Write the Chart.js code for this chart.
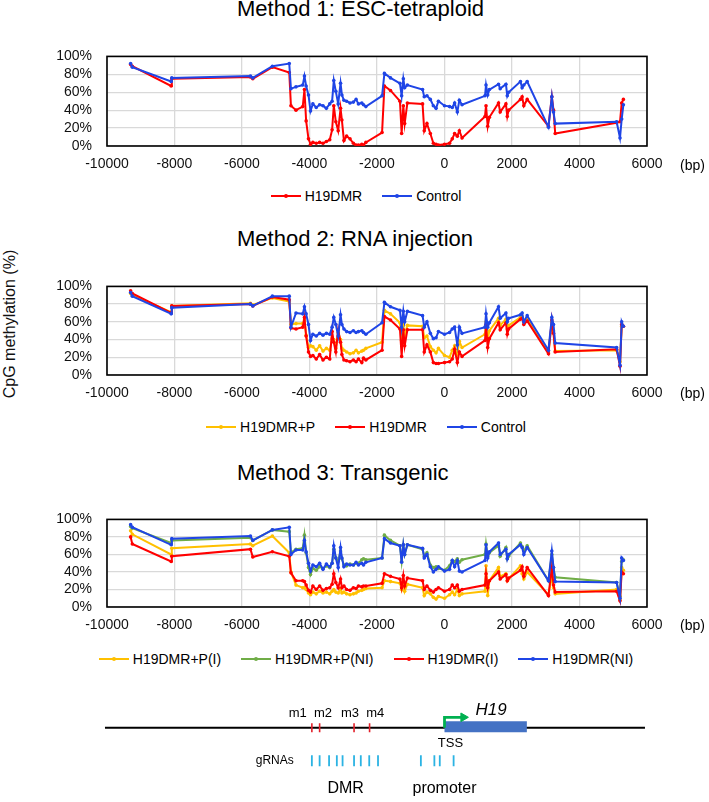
<!DOCTYPE html>
<html>
<head>
<meta charset="utf-8">
<script src="https://cdn.jsdelivr.net/npm/chart.js@4.4.0/dist/chart.umd.min.js"></script>
<style>
body { margin: 0; width: 709px; height: 802px; overflow: hidden; background: #fff; position: relative;
       font-family: "Liberation Sans", Arial, sans-serif; color: #000; }
.abs { position: absolute; }
.title { left: 237px; font-size: 22px; line-height: 22px; white-space: nowrap; }
.legend { left: 0; width: 732px; display: flex; justify-content: center; font-size: 14px; line-height: 14px; white-space: nowrap; }
.item { display: flex; align-items: center; margin: 0 10px; }
.swatch { position: relative; width: 30px; height: 2px; margin-right: 4px; }
.swatch i { position: absolute; left: 13px; top: -1px; width: 4px; height: 4px; border-radius: 2px; }
.bp { left: 680px; font-size: 14px; line-height: 14px; }
.ylab { left: -90px; top: 314px; width: 200px; height: 20px; line-height: 20px; font-size: 16px;
        text-align: center; white-space: nowrap; transform: rotate(-90deg); color: #111; }
</style>
</head>
<body>
<div class="abs title" style="top:-2px">Method 1: ESC-tetraploid</div>
<canvas id="c1" class="abs" style="top:33px;left:0" width="709" height="141"></canvas>
<div class="abs bp" style="top:158px">(bp)</div>
<div id="lg1" class="abs legend" style="top:189px"></div>

<div class="abs ylab">CpG methylation (%)</div>

<div class="abs title" style="top:228px">Method 2: RNA injection</div>
<canvas id="c2" class="abs" style="top:263px;left:0" width="709" height="140"></canvas>
<div class="abs bp" style="top:386px">(bp)</div>
<div id="lg2" class="abs legend" style="top:420px"></div>

<div class="abs title" style="top:462px">Method 3: Transgenic</div>
<canvas id="c3" class="abs" style="top:496px;left:0" width="709" height="139"></canvas>
<div class="abs bp" style="top:618px">(bp)</div>
<div id="lg3" class="abs legend" style="top:652px"></div>

<canvas id="schematic" class="abs" style="top:690px;left:0" width="709" height="112"></canvas>

<script>
// CpG positions relative to the H19 TSS (bp), shared by every series
const positions = [-9300,-9250,-8100,-8080,-5750,-5680,-5100,-4600,-4550,-4400,
  -4200,-4150,-4100,-4030,-3970,-3900,-3800,-3700,-3600,-3500,
  -3400,-3330,-3280,-3220,-3150,-3080,-3040,-2980,-2900,-2800,
  -2700,-2620,-2550,-2450,-2400,-2330,-1850,-1780,-1600,-1320,
  -1270,-1220,-1180,-1100,-650,-600,-520,-420,-330,-250,
  -180,0,150,230,300,380,440,520,1200,1230,
  1280,1330,1600,1650,1820,1860,1900,2250,2300,2350,
  2450,3080,3180,3230,3280,5100,5200,5250,5300];

const xTicks = [-10000,-8000,-6000,-4000,-2000,0,2000,4000,6000];
const yTicks = [0,20,40,60,80,100];

// Method 1: ESC-tetraploid
const m1Names = ['H19DMR','Control'];
const m1H19DMR = [91,89,67,75,77,75,88,82,45,40, 44,63,28,8,2,4,3,4,3,5,
  7,18,45,27,17,42,29,6,11,8, 3,1,1,2,1,4,15,67,62,50,
  14,45,25,48,47,17,25,14,3,2, 1,2,3,8,14,11,17,9,33,45,
  22,32,48,38,47,33,40,52,55,45, 52,22,55,40,14,26,27,48,52];
const m1Control = [92,88,72,76,78,76,89,92,64,66, 68,78,67,57,39,47,43,46,45,42,
  47,50,73,61,47,70,57,51,50,48, 49,52,47,48,46,44,56,81,76,70,
  56,75,65,68,63,55,56,52,45,42, 50,45,44,43,48,38,51,46,56,68,
  57,63,69,64,69,56,60,72,65,68, 72,21,55,38,25,27,9,30,46];

// Method 2: RNA injection
const m2Names = ['H19DMR+P','H19DMR','Control'];
const m2H19DMRP = [92,90,71,78,81,79,87,83,57,58, 58,62,45,31,33,32,28,33,27,30,
  28,41,40,30,48,40,30,28,26,24, 25,28,25,27,28,30,37,73,69,59,
  39,56,45,56,55,42,44,32,28,25, 30,22,20,28,33,24,38,31,46,60,
  40,50,64,56,63,52,56,65,66,60, 64,26,60,50,27,28,15,55,55];
const m2H19DMR = [95,92,70,78,80,78,88,85,53,52, 54,65,44,26,21,22,18,23,17,20,
  18,49,37,26,51,37,23,17,16,15, 17,15,18,14,19,17,28,66,62,52,
  21,51,33,51,51,26,34,26,14,13, 13,14,15,18,29,14,26,21,39,57,
  31,41,59,51,59,46,52,63,64,57, 61,24,62,47,26,29,10,57,55];
const m2Control = [93,89,69,76,80,78,89,89,54,70, 69,77,69,57,39,46,44,47,45,47,
  46,54,65,57,44,68,57,52,49,48, 50,48,49,50,48,46,59,82,77,73,
  54,72,60,72,67,54,60,47,41,42, 49,46,48,52,54,34,54,47,54,69,
  54,59,77,64,70,60,64,68,70,60, 67,28,65,57,36,31,11,60,55];

// Method 3: Transgenic
const m3Names = ['H19DMR+P(I)','H19DMR+P(NI)','H19DMR(I)','H19DMR(NI)'];
const m3PI = [87,83,60,67,72,70,81,62,40,25, 22,22,20,16,14,17,15,18,16,17,
  15,18,20,17,16,21,16,17,15,14, 15,16,18,19,20,21,22,30,29,27,
  20,30,18,26,22,13,17,15,11,9, 12,10,14,17,14,20,13,15,18,47,
  13,30,45,35,38,30,32,47,38,32, 40,14,35,22,15,20,8,45,42];
const m3PNI = [92,90,73,76,79,76,88,86,62,66, 67,82,62,45,37,44,42,46,44,47,
  45,50,66,56,52,64,55,48,47,49, 48,50,50,54,55,54,56,82,76,70,
  52,71,60,71,66,58,62,48,45,46, 44,42,47,53,52,55,51,54,60,72,
  58,62,70,58,68,55,58,73,69,64, 70,30,60,45,34,28,12,52,54];
const m3I = [80,72,52,58,66,57,63,58,39,30, 30,29,25,19,17,24,20,24,19,21,
  22,26,38,28,22,32,22,24,20,19, 22,21,24,23,24,24,27,38,35,32,
  22,36,24,33,30,20,24,19,17,20, 22,18,20,25,22,25,18,20,25,38,
  22,30,40,32,37,30,33,42,46,35, 45,13,45,25,17,18,7,40,38];
const m3NI = [94,91,71,78,81,76,88,91,60,65, 65,76,63,50,41,48,46,50,43,49,
  46,50,70,56,45,68,56,46,49,48, 48,51,48,50,48,51,56,78,73,70,
  51,71,60,71,67,56,60,46,40,43, 46,41,43,53,46,53,41,40,53,71,
  56,63,73,60,66,55,60,71,68,60, 68,30,64,45,29,28,10,56,53];

// Schematic of the locus (bp, same axis as the charts)
const backbone = [-10060, 5940];
const siteNames = ['m1','m2','m3','m4'];
const sites = [-3930,-3700,-2680,-2220];
const siteLabelX = [-4350,-3600,-2800,-2050];
const grnas = [-3930,-3700,-3420,-3190,-3020,-2680,-2480,-2230,-1970,-700,-300,-140,270];
const gene = [0, 2440];
const tss = 0;
const regionNames = ['DMR','promoter'];
const regionX = [-2930, 0];

const RED = '#FF0000', BLUE = '#1F45E6', YELLOW = '#FFC000', GREEN = '#70AD47';

Chart.defaults.font.family = '"Liberation Sans", Arial, sans-serif';
Chart.defaults.color = '#111';

const frame = {
  id: 'frame',
  beforeDatasetsDraw(chart) {
    const a = chart.chartArea, ctx = chart.ctx;
    ctx.save();
    ctx.strokeStyle = '#000';
    ctx.lineWidth = 1.6;
    ctx.strokeRect(a.left, a.top, a.right - a.left, a.bottom - a.top);
    ctx.restore();
  }
};

function legend(id, names, colors) {
  document.getElementById(id).innerHTML = names.map((n, i) =>
    '<span class="item"><span class="swatch" style="background:' + colors[i] + '"><i style="background:' +
    colors[i] + '"></i></span>' + n + '</span>').join('');
}

function lineChart(id, names, colors, values) {
  const datasets = names.map((name, i) => ({
    label: name,
    data: positions.map((x, j) => ({ x: x, y: values[i][j] })),
    showLine: true,
    borderColor: colors[i],
    backgroundColor: colors[i],
    borderWidth: 2,
    pointRadius: 1.8,
    pointBorderWidth: 0,
    order: names.length - i
  }));
  const grid = { color: '#D9D9D9', lineWidth: 1.3, drawTicks: false };
  return new Chart(document.getElementById(id), {
    type: 'scatter',
    data: { datasets: datasets },
    options: {
      responsive: false,
      animation: false,
      devicePixelRatio: 1,
      layout: { padding: { left: 0, right: 62, top: 10, bottom: 0 } },
      plugins: { legend: { display: false }, tooltip: { enabled: false } },
      scales: {
        x: {
          type: 'linear', min: xTicks[0], max: xTicks[xTicks.length - 1],
          ticks: { stepSize: xTicks[1] - xTicks[0], callback: v => String(v), padding: 10,
                   font: { size: 14 }, maxRotation: 0, autoSkip: false, color: '#111' },
          grid: grid, border: { display: false },
          afterFit: s => { s.height = 28; }
        },
        y: {
          min: yTicks[0], max: yTicks[yTicks.length - 1],
          ticks: { stepSize: yTicks[1] - yTicks[0], callback: v => v + '%', padding: 15,
                   font: { size: 14 }, autoSkip: false, color: '#111' },
          grid: grid, border: { display: false },
          afterFit: s => { s.width = 107; }
        }
      }
    },
    plugins: [frame]
  });
}

const c1Colors = [RED, BLUE];
const c2Colors = [YELLOW, RED, BLUE];
const c3Colors = [YELLOW, GREEN, RED, BLUE];
lineChart('c1', m1Names, c1Colors, [m1H19DMR, m1Control]);
lineChart('c2', m2Names, c2Colors, [m2H19DMRP, m2H19DMR, m2Control]);
lineChart('c3', m3Names, c3Colors, [m3PI, m3PNI, m3I, m3NI]);
legend('lg1', m1Names, c1Colors);
legend('lg2', m2Names, c2Colors);
legend('lg3', m3Names, c3Colors);

// schematic: track levels (vertical units ~ px above the backbone)
const lvl = { site: 17, label: 20, gene: 1, arrow: 12, tss: -18, grna: -38, region: -70 };
const arrowEnd = 560;

const labels = siteNames.map((n, i) => ({ text: n, x: siteLabelX[i], y: lvl.site, font: '13px "Liberation Sans", Arial' }))
  .concat([
    { text: 'H19', x: 1380, y: lvl.label, font: 'italic 17px "Liberation Sans", Arial' },
    { text: 'TSS', x: tss + 175, y: lvl.tss, font: '13px "Liberation Sans", Arial' },
    { text: 'gRNAs', x: -5030, y: lvl.grna, font: '12px "Liberation Sans", Arial' }
  ])
  .concat(regionNames.map((n, i) => ({ text: n, x: regionX[i], y: lvl.region, font: '16px "Liberation Sans", Arial' })));

const schematicText = {
  id: 'schematicText',
  afterDatasetsDraw(chart) {
    const ctx = chart.ctx, x = chart.scales.x, y = chart.scales.y;
    ctx.save();
    ctx.textAlign = 'center';
    ctx.textBaseline = 'middle';
    ctx.fillStyle = '#000';
    labels.forEach(l => {
      ctx.font = l.font;
      ctx.fillText(l.text, x.getPixelForValue(l.x), y.getPixelForValue(l.y));
    });
    ctx.restore();
  }
};

new Chart(document.getElementById('schematic'), {
  type: 'scatter',
  data: {
    datasets: [
      { data: sites.map(v => ({ x: v, y: 0 })), pointStyle: 'line', rotation: 90, pointRadius: 4.5,
        borderColor: '#E3202A', borderWidth: 1.6, order: 0 },
      { data: grnas.map(v => ({ x: v, y: lvl.grna })), pointStyle: 'line', rotation: 90, pointRadius: 5.5,
        borderColor: '#2BB3E3', borderWidth: 1.8, order: 0 },
      { data: [{ x: arrowEnd, y: lvl.arrow }], pointStyle: 'triangle', rotation: 90, pointRadius: 5,
        backgroundColor: '#00B050', borderColor: '#00B050', order: 1 },
      { data: [{ x: tss, y: 0 }, { x: tss, y: lvl.arrow }, { x: arrowEnd - 60, y: lvl.arrow }], showLine: true,
        borderColor: '#00B050', borderWidth: 2.8, pointRadius: 0, borderJoinStyle: 'miter', order: 1 },
      { data: gene.map(v => ({ x: v, y: lvl.gene })), showLine: true, borderColor: '#4472C4',
        borderWidth: 11, borderCapStyle: 'butt', pointRadius: 0, order: 2 },
      { data: backbone.map(v => ({ x: v, y: 0 })), showLine: true, borderColor: '#000', borderWidth: 2.2,
        pointRadius: 0, clip: false, order: 3 }
    ]
  },
  options: {
    responsive: false,
    animation: false,
    devicePixelRatio: 1,
    layout: { padding: { left: 107, right: 62, top: 0, bottom: 0 } },
    plugins: { legend: { display: false }, tooltip: { enabled: false } },
    scales: {
      x: { type: 'linear', display: false, min: xTicks[0], max: xTicks[xTicks.length - 1] },
      y: { display: false, min: -77, max: 35 }
    }
  },
  plugins: [schematicText]
});
</script>
</body>
</html>
